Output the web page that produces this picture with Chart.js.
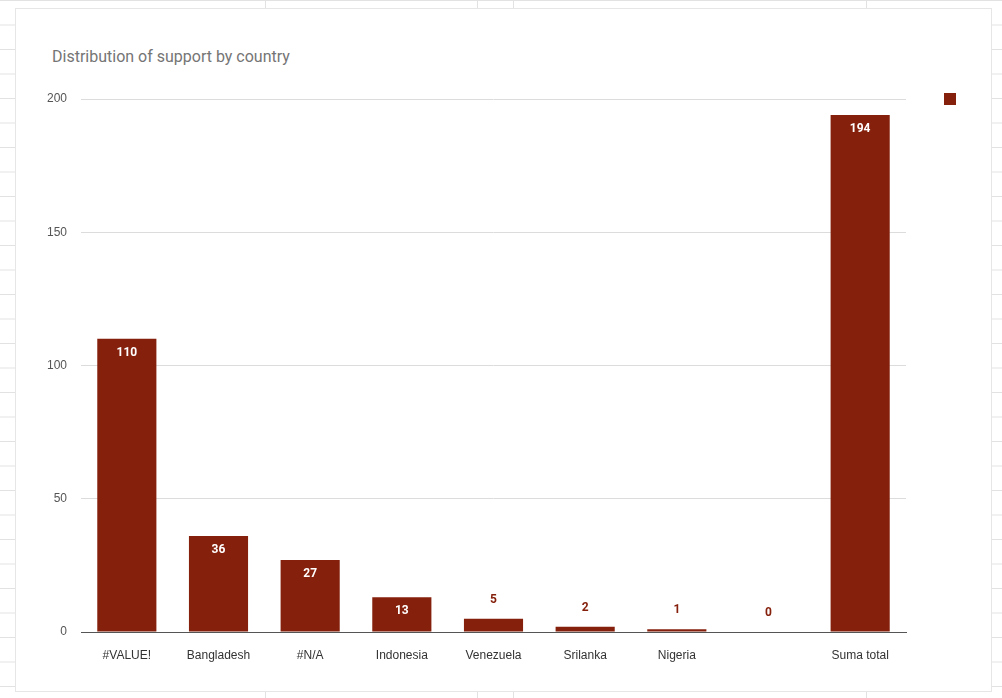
<!DOCTYPE html>
<html lang="es">
<head>
  <meta charset="UTF-8">
  <title>Distribution of support by country</title>
  <script src="https://cdn.jsdelivr.net/npm/chart.js"></script>
  <style>
    body { margin: 0; width: 1002px; height: 698px; overflow: hidden; font-family: Roboto, Arial, sans-serif;
      background-color: #fff;
      background-image: linear-gradient(#e2e2e2 1px, transparent 1px), linear-gradient(90deg, #e2e2e2 1px, transparent 1px);
      background-size: 100% 24.5px, 0 0; }
    .vline { position: absolute; top: 0; width: 1px; height: 698px; background: #e2e2e2; }
    .card { position: absolute; left: 15px; top: 8px; width: 975px; height: 682px; background: #fff; border: 1px solid #e6e6e6; }
    .title { position: absolute; left: 36px; top: 38px; font-size: 16px; color: #757575; }
    .legend { position: absolute; left: 928px; top: 84px; width: 12px; height: 12px; background: #85200c; }
    canvas { position: absolute; left: 0; top: 0; }
  </style>
</head>
<body>
  <div class="vline" style="left:265px"></div>
  <div class="vline" style="left:477px"></div>
  <div class="vline" style="left:513px"></div>
  <div class="vline" style="left:866px"></div>
  <div class="card">
    <div class="title">Distribution of support by country</div>
    <div class="legend"></div>
    <canvas id="myChart" width="975" height="682"></canvas>
  </div>

<script type="text/javascript">
const labels = ['#VALUE!', 'Bangladesh', '#N/A', 'Indonesia', 'Venezuela', 'Srilanka', 'Nigeria', '', 'Suma total'];
const values = [110, 36, 27, 13, 5, 2, 1, 0, 194];

// etiquetas de valor sobre/dentro de las barras
const valueLabels = {
  id: 'valueLabels',
  afterDatasetsDraw(chart) {
    const ctx = chart.ctx;
    const meta = chart.getDatasetMeta(0);
    ctx.save();
    ctx.font = 'bold 12px Roboto, Arial, sans-serif';
    ctx.textAlign = 'center';
    ctx.textBaseline = 'middle';
    meta.data.forEach((bar, i) => {
      const v = values[i];
      if (v >= 10) {
        ctx.fillStyle = '#ffffff';
        ctx.fillText(v, bar.x, bar.y + 14);
      } else {
        ctx.fillStyle = '#85200c';
        ctx.fillText(v, bar.x, bar.y - 19);
      }
    });
    ctx.restore();
  }
};

const config = {
  type: 'bar',
  data: {
    labels: labels,
    datasets: [{ data: values, backgroundColor: '#85200c', categoryPercentage: 1, barPercentage: 0.645 }]
  },
  options: {
    responsive: false,
    animation: false,
    layout: { padding: { top: 90, right: 85, left: 0, bottom: 0 } },
    plugins: { legend: { display: false }, tooltip: { enabled: false } },
    scales: {
      y: {
        min: 0, max: 200,
        ticks: { stepSize: 50, color: '#555', font: { size: 12 }, padding: 14 },
        grid: { color: '#dcdcdc', drawTicks: false },
        border: { display: false },
        afterFit(s) { s.width = 65; }
      },
      x: {
        ticks: { color: '#333', font: { size: 12 }, padding: 8, autoSkip: false, maxRotation: 0 },
        grid: { display: false },
        border: { color: '#555' },
        afterFit(s) { s.height = 59; }
      }
    }
  },
  plugins: [valueLabels]
};
const myChart = new Chart(document.getElementById('myChart'), config);
</script>
</body>
</html>
